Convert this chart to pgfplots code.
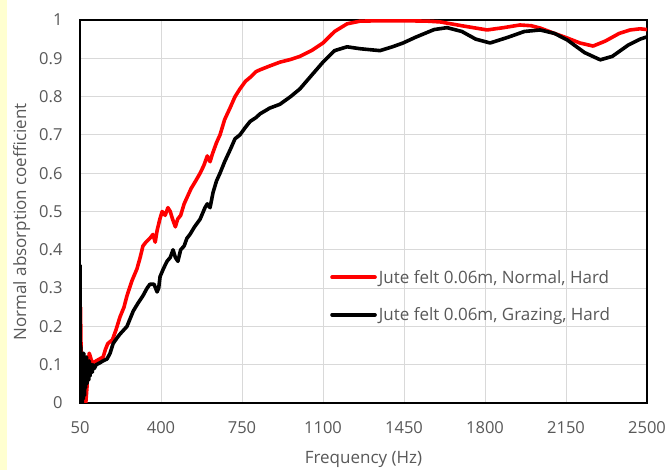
\documentclass[border=0pt]{standalone}
\usepackage{pgfplots}
\pgfplotsset{compat=1.18}
\usepackage{fontspec}
\setmainfont{Open Sans}
\definecolor{labelgray}{RGB}{89,89,89}
\definecolor{gridgray}{RGB}{217,217,217}
\definecolor{sidebar}{RGB}{255,255,208}
\definecolor{curvered}{RGB}{255,0,0}
\newcommand{\tickfont}{\fontsize{16.5bp}{19bp}\selectfont}
\newcommand{\titlefont}{\fontsize{17bp}{20bp}\selectfont}

\begin{document}
\begin{tikzpicture}
\fill[white] (0,0) rectangle (670bp,470bp);
\fill[sidebar] (0,0) rectangle (7bp,470bp);
\begin{axis}[
  at={(80bp,67bp)}, anchor=south west,
  scale only axis, width=567bp, height=383bp,
  xmin=50, xmax=2500, ymin=0, ymax=1,
  xtick={50,400,750,1100,1450,1800,2150,2500},
  ytick={0,0.1,0.2,0.3,0.4,0.5,0.6,0.7,0.8,0.9,1},
  /pgf/number format/1000 sep={},
  yticklabel style={/pgf/number format/fixed, /pgf/number format/precision=1},
  /pgf/number format/assume math mode=true,
  scaled ticks=false,
  major tick length=0pt,
  grid=major,
  major grid style={gridgray, line width=0.9bp},
  axis line style={black, line width=1.6bp},
  tick label style={font=\tickfont, text=labelgray},
  xticklabel style={anchor=center, yshift=-25bp},
  yticklabel style={anchor=east, xshift=-14bp},
  every axis x label/.style={at={(axis description cs:0.5,0)}, anchor=base, yshift=-60bp, font=\titlefont, text=labelgray},
  every axis y label/.style={at={(axis description cs:-0.103,0.473)}, rotate=90, anchor=center, font=\titlefont, text=labelgray},
  xlabel={Frequency (Hz)},
  ylabel={Normal absorption coefficient},
  legend style={at={(rel axis cs:0.441,0.353)}, anchor=north west, draw=none, fill=none,
    font=\titlefont, text=labelgray, row sep=19bp, inner sep=0pt,
    nodes={inner sep=2bp}},
  legend cell align=left,
  legend image code/.code={\draw[#1] (0bp,0bp) -- (43bp,0bp);},
  every axis plot/.append style={line width=3.6bp, line join=round, line cap=round},
]
\addplot[curvered] coordinates {
(52,0.25) (55,0.12) (58,0.05) (62,0.0) (68,0.02) (75,0.0) (80,0.04) (85,0.10)
(90,0.13) (95,0.12) (100,0.11) (110,0.105) (120,0.11) (135,0.115) (150,0.12)
(160,0.14) (170,0.155) (190,0.165) (205,0.19) (223,0.225) (240,0.25) (253,0.28)
(275,0.32) (296,0.35) (310,0.38) (322,0.41) (335,0.42) (352,0.43) (365,0.44)
(375,0.42) (383,0.45) (395,0.48) (405,0.50) (418,0.49) (430,0.51) (440,0.50)
(450,0.48) (462,0.46) (472,0.48) (485,0.49) (500,0.52) (515,0.54) (530,0.56)
(550,0.58) (569,0.60) (585,0.62) (600,0.645) (612,0.63) (622,0.65) (640,0.68)
(655,0.70) (675,0.74) (698,0.77) (720,0.80) (741,0.82) (765,0.84) (785,0.85)
(810,0.865) (828,0.87) (870,0.88) (914,0.89) (960,0.897) (1000,0.905) (1050,0.92)
(1100,0.94) (1150,0.97) (1204,0.99) (1260,0.997) (1350,0.998) (1450,0.998)
(1550,0.997) (1606,0.995) (1700,0.985) (1809,0.974) (1880,0.98) (1951,0.987)
(2000,0.985) (2038,0.979) (2100,0.965) (2155,0.953) (2210,0.94) (2267,0.932)
(2320,0.945) (2380,0.965) (2427,0.974) (2470,0.977) (2500,0.975)
};
\addlegendentry{Jute felt 0.06m, Normal, Hard}
\addplot[black] coordinates {
(50,0.36) (51,0.10) (52,0.0) (53,0.15) (54,0.01) (55,0.12) (56,0.0) (57,0.13)
(58,0.02) (59,0.11) (60,0.0) (61,0.12) (62,0.03) (63,0.10) (64,0.01) (66,0.13)
(67,0.03) (69,0.11) (70,0.02) (72,0.12) (74,0.04) (75,0.10) (77,0.05) (78,0.12)
(80,0.05) (82,0.11) (84,0.06) (86,0.10) (88,0.06) (90,0.11) (93,0.07) (95,0.10)
(98,0.08) (100,0.10) (103,0.08) (106,0.10) (112,0.09) (120,0.10) (136,0.105)
(150,0.11) (167,0.115) (180,0.13) (193,0.155) (210,0.17) (223,0.18) (253,0.20)
(280,0.24) (300,0.26) (322,0.28) (340,0.30) (352,0.31) (370,0.31) (383,0.29)
(390,0.30) (396,0.33) (410,0.35) (426,0.37) (440,0.38) (452,0.40) (462,0.38)
(473,0.37) (485,0.40) (500,0.41) (512,0.43) (525,0.44) (545,0.46) (569,0.48)
(590,0.51) (600,0.52) (612,0.51) (625,0.55) (640,0.58) (655,0.60) (675,0.63)
(698,0.66) (720,0.69) (741,0.70) (765,0.72) (785,0.735) (810,0.745) (828,0.755)
(870,0.77) (914,0.78) (960,0.80) (1000,0.82) (1057,0.86) (1100,0.89) (1150,0.92)
(1204,0.93) (1260,0.925) (1346,0.92) (1400,0.93) (1446,0.94) (1500,0.955)
(1580,0.975) (1636,0.98) (1700,0.97) (1760,0.95) (1822,0.94) (1900,0.955)
(1970,0.97) (2038,0.974) (2100,0.965) (2155,0.948) (2230,0.915) (2298,0.896)
(2350,0.905) (2420,0.935) (2470,0.95) (2500,0.956)
};
\addlegendentry{Jute felt 0.06m, Grazing, Hard}
\end{axis}
\pgfresetboundingbox
\useasboundingbox (0,0) rectangle (670bp,470bp);
\end{tikzpicture}
\end{document}
